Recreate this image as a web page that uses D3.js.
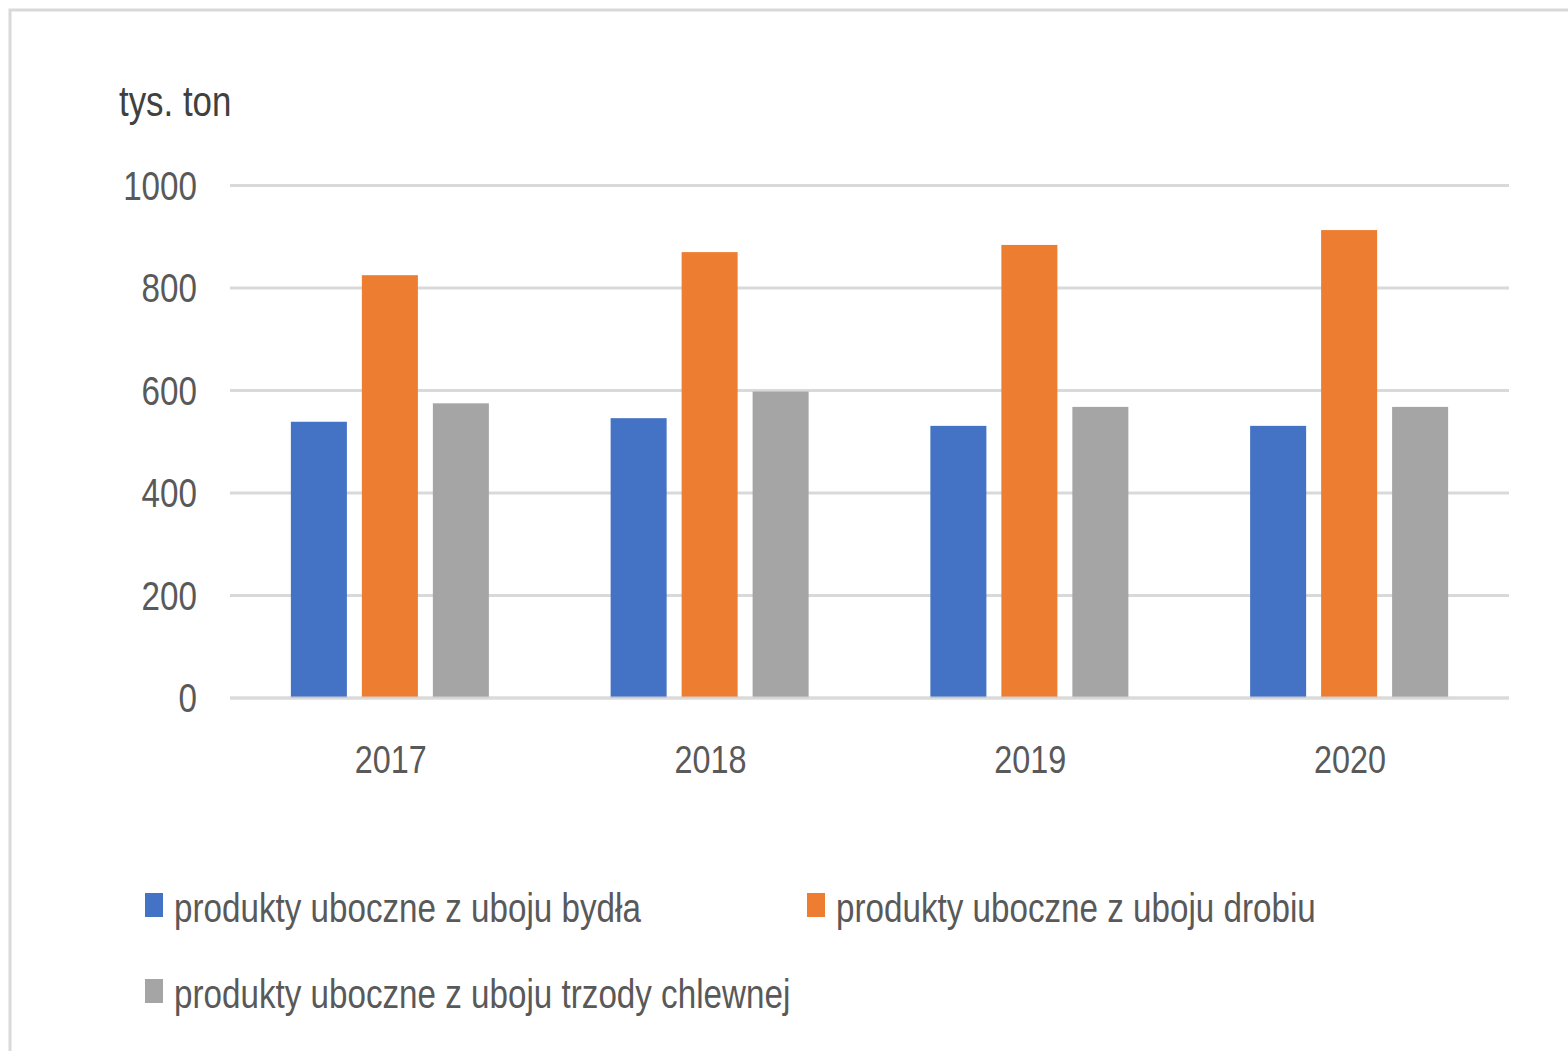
<!DOCTYPE html>
<html>
<head>
<meta charset="utf-8">
<script src="https://cdn.jsdelivr.net/npm/d3@7"></script>
<style>
  body { margin: 0; background: #fff; }
  text { font-family: "Liberation Sans", Arial, sans-serif; }
</style>
</head>
<body>
<div id="chart"></div>
<script>
// data
var years = ["2017", "2018", "2019", "2020"];
var series = ["produkty uboczne z uboju bydła", "produkty uboczne z uboju drobiu", "produkty uboczne z uboju trzody chlewnej"];
var bydlo = [539, 546, 531, 531];
var drob = [825, 870, 884, 913];
var trzoda = [575, 598, 568, 568];
var yTicks = [0, 200, 400, 600, 800, 1000];
var unitLabel = "tys. ton";

var colors = ["#4472C4", "#ED7D31", "#A5A5A5"];
var values = [bydlo, drob, trzoda];

var w = 1568, h = 1051;
var plotLeft = 230, plotRight = 1509, plotTop = 185.5, plotBottom = 698;
var narrow = 0.83;   // squeeze the text so it looks like a narrow face

function place(x, y) {
    return "translate(" + x + "," + y + ") scale(" + narrow + ",1)";
}

var svg = d3.select("#chart")
            .append("svg")
            .attr("width", w)
            .attr("height", h);

// outer frame (runs off the right and bottom edges)
svg.append("rect")
   .attr("x", 10).attr("y", 10)
   .attr("width", 1600).attr("height", 1100)
   .attr("fill", "none")
   .attr("stroke", "#d9d9d9")
   .attr("stroke-width", 3);

var x0 = d3.scaleBand()
           .domain(years)
           .range([plotLeft, plotRight]);

var x1 = d3.scaleBand()
           .domain(d3.range(series.length))
           .range([-99, 99])
           .paddingInner(0.211);

var y = d3.scaleLinear()
          .domain([0, 1000])
          .range([plotBottom, plotTop]);

// gridlines
svg.selectAll("line.grid")
   .data(yTicks)
   .enter()
   .append("line")
   .attr("class", "grid")
   .attr("x1", plotLeft).attr("x2", plotRight)
   .attr("y1", function(d) { return y(d); })
   .attr("y2", function(d) { return y(d); })
   .attr("stroke", "#d9d9d9")
   .attr("stroke-width", 3);

// tick labels
svg.selectAll("text.ytick")
   .data(yTicks)
   .enter()
   .append("text")
   .attr("class", "ytick")
   .attr("transform", function(d) { return place(197, y(d)); })
   .attr("dy", "0.36em")
   .attr("text-anchor", "end")
   .attr("font-size", 40)
   .attr("fill", "#595959")
   .text(function(d) { return d; });

// bars
var groups = svg.selectAll("g.year")
                .data(years)
                .enter()
                .append("g")
                .attr("class", "year")
                .attr("transform", function(d) { return "translate(" + (x0(d) + x0.bandwidth() / 2) + ",0)"; });

groups.selectAll("rect")
      .data(function(d, i) {
          return values.map(function(v, s) { return { s: s, v: v[i] }; });
      })
      .enter()
      .append("rect")
      .attr("x", function(d) { return x1(d.s); })
      .attr("y", function(d) { return y(d.v); })
      .attr("width", x1.bandwidth())
      .attr("height", function(d) { return y(0) - y(d.v); })
      .attr("fill", function(d) { return colors[d.s]; });

// zero line over the bars
svg.append("line")
   .attr("x1", plotLeft).attr("x2", plotRight)
   .attr("y1", y(0)).attr("y2", y(0))
   .attr("stroke", "#d9d9d9")
   .attr("stroke-opacity", 0.85)
   .attr("stroke-width", 3);

// year labels
svg.selectAll("text.xtick")
   .data(years)
   .enter()
   .append("text")
   .attr("class", "xtick")
   .attr("transform", function(d) { return place(x0(d) + x0.bandwidth() / 2 + 1, 773); })
   .attr("text-anchor", "middle")
   .attr("font-size", 39)
   .attr("fill", "#595959")
   .text(function(d) { return d; });

// unit label
svg.append("text")
   .attr("transform", place(119, 116))
   .attr("font-size", 42)
   .attr("fill", "#404040")
   .text(unitLabel);

// legend
var legendPos = [[145, 922], [807, 922], [145, 1008]];
var legend = svg.selectAll("g.legend")
                .data(series)
                .enter()
                .append("g")
                .attr("class", "legend")
                .attr("transform", function(d, i) { return "translate(" + legendPos[i][0] + "," + legendPos[i][1] + ")"; });

legend.append("rect")
      .attr("x", 0)
      .attr("y", -29)
      .attr("width", 18)
      .attr("height", 24)
      .attr("fill", function(d, i) { return colors[i]; });

legend.append("text")
      .attr("transform", place(29, 0))
      .attr("font-size", 40)
      .attr("fill", "#595959")
      .text(function(d) { return d; });
</script>
</body>
</html>
